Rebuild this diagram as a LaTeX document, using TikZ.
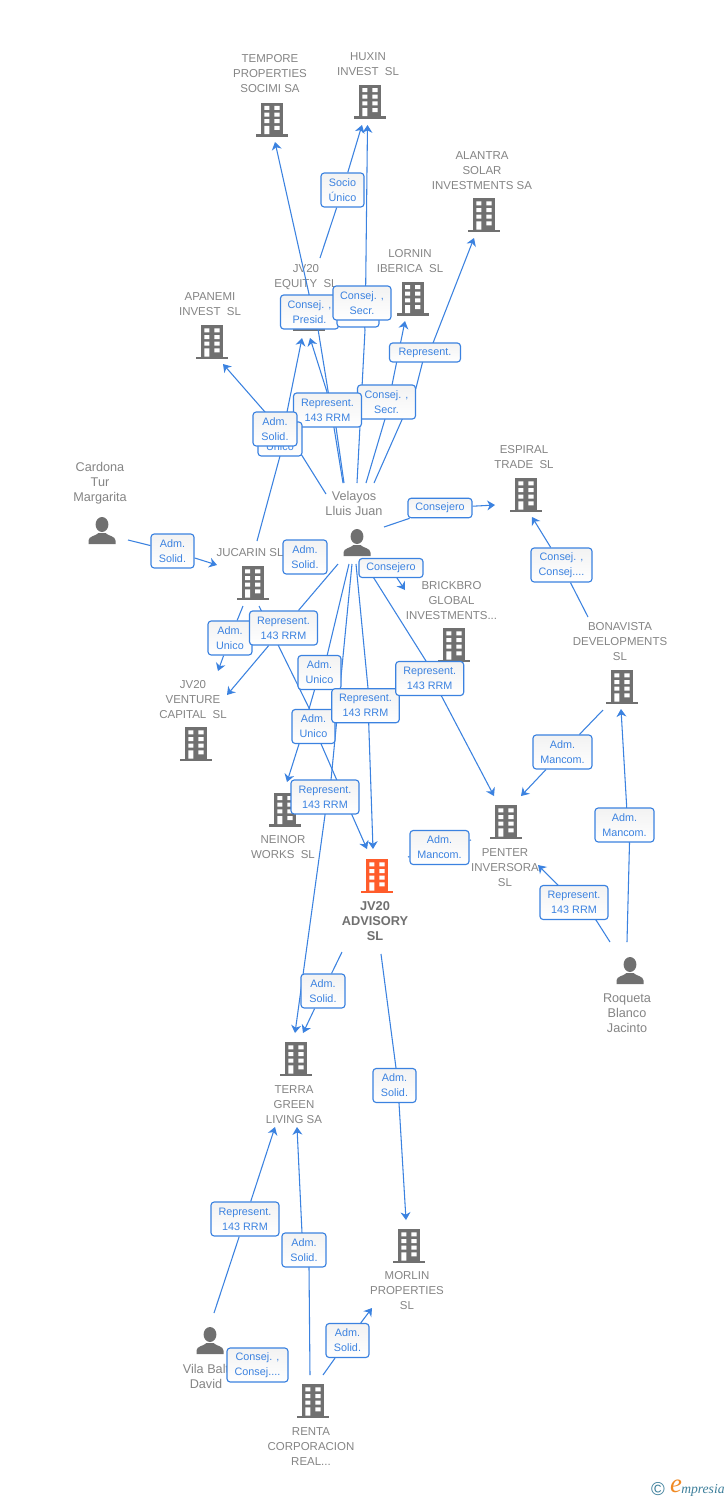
\documentclass[tikz,border=0pt]{standalone}
\usepackage{fontspec}
\setmainfont{Liberation Sans}
\newfontfamily\logoserif{Liberation Serif}
\usetikzlibrary{arrows.meta}
\definecolor{blu}{HTML}{3B82E0}
\definecolor{lbl}{HTML}{858585}
\definecolor{ico}{HTML}{707070}
\definecolor{org}{HTML}{FF5C2B}
\definecolor{teal}{HTML}{3D7F9B}
\definecolor{lorg}{HTML}{F08A24}
\pgfdeclarelayer{back}
\pgfdeclarelayer{lines}
\pgfsetlayers{back,lines,main}
\tikzset{
  link/.style={draw=blu,line width=0.8pt},
  tipped/.style={link,-{Stealth[length=5.8pt,width=7.4pt,inset=1.8pt]}},
  boxnode/.style={draw=blu,line width=0.85pt,rounded corners=2.4pt,top color=black!5,bottom color=white,
     text=blu,inner sep=0pt,align=center,font=\fontsize{8.1}{11.25}\selectfont},
  co/.style={text=lbl,inner sep=0pt,align=center,font=\fontsize{8.6}{11.25}\selectfont},
  pe/.style={text=lbl,inner sep=0pt,align=center,font=\fontsize{9.5}{11.25}\selectfont},
  mainco/.style={text=ico,inner sep=0pt,align=center,font=\fontsize{9.6}{11.25}\selectfont\bfseries},
}
% building icon: centre x, bottom y
\newcommand\bld[3][ico]{%
  \begin{scope}[shift={(#2,#3)}]
    \fill[#1] (-11,-34) rectangle (11,-1);
    \fill[#1] (-16,-2.5) rectangle (16,0);
    \fill[white] (-7.7,-30.6) rectangle (-2.7,-26.6) (2.3,-30.6) rectangle (7.7,-26.6)
                 (-7.7,-24) rectangle (-2.7,-20) (2.3,-24) rectangle (7.7,-20)
                 (-7.7,-17.3) rectangle (-2.7,-13.3) (2.3,-17.3) rectangle (7.7,-13.3)
                 (-7.7,-10.6) rectangle (-2.7,-2.5) (2.3,-10.6) rectangle (7.7,-6.6);
  \end{scope}}
% person icon: centre x, bottom y
\newcommand\psn[2]{%
  \begin{scope}[shift={(#1,#2)}]
    \fill[ico] (0,-19.5) ellipse [x radius=6.4,y radius=7.5];
    \fill[ico] (-13.5,0) -- (-13.5,-3.5) .. controls (-13.5,-8) and (-6,-8) .. (-3.5,-11)
       -- (3.5,-11) .. controls (6,-8) and (13.5,-8) .. (13.5,-3.5) -- (13.5,0) -- cycle;
  \end{scope}}
% label box: name, centre, width, height, text
\newcommand\bx[5]{\node[boxnode,minimum width=#3*0.75pt,minimum height=#4*0.75pt] (#1) at (#2) {#5};}
% connector: id, start, box, tip
\newcommand\lnk[4]{%
  \coordinate (#1-s) at (#2); \coordinate (#1-e) at (#4);
  \begin{pgfonlayer}{lines}
    \draw[link] (#1-s) -- (#3);
    \draw[tipped] (#3) -- (#1-e);
  \end{pgfonlayer}}
% connector with way points: id, start, way point in, box, way point out, tip
\newcommand\lnkv[6]{%
  \coordinate (#1-s) at (#2); \coordinate (#1-a) at (#3);
  \coordinate (#1-b) at (#5); \coordinate (#1-e) at (#6);
  \begin{pgfonlayer}{lines}
    \draw[link] (#1-s) -- (#1-a) -- (#4.center);
    \draw[tipped] (#4.center) -- (#1-b) -- (#1-e);
  \end{pgfonlayer}}
\begin{document}
\begin{tikzpicture}[x=0.75pt,y=-0.75pt]
\useasboundingbox (0,0) rectangle (728,1500);
\begin{pgfonlayer}{back}
\fill[white] (0,0) rectangle (728,1500);
\bld{272}{136.5} \bld{370}{118.7} \bld{484}{232} \bld{412.7}{315.7}
\bld{308.5}{331} \bld{212}{359} \bld{526}{512} \bld{252.7}{600}
\bld{454}{662} \bld{622}{704} \bld{196}{761} \bld{285}{826.7}
\bld{506}{839} \bld[org]{377}{893} \bld{296}{1076} \bld{409}{1263} \bld{313}{1418}
\psn{102}{544} \psn{357}{556} \psn{630}{984} \psn{210}{1354}
\node[co] (tempore) at (270,74) {TEMPORE\\PROPERTIES\\SOCIMI SA};
\node[co] (huxin) at (368,64.5) {HUXIN\\INVEST\ \ SL};
\node[co] (alantra) at (482,171) {ALANTRA\\SOLAR\\INVESTMENTS SA};
\node[co] (lornin) at (410,261.5) {LORNIN\\IBERICA\ \ SL};
\node[co] (equity) at (306,277.5) {JV20\\EQUITY\ \ SL};
\node[co] (apanemi) at (210,304.5) {APANEMI\\INVEST\ \ SL};
\node[pe] (cardona) at (100,483.5) {Cardona\\Tur\\Margarita};
\node[pe] (velayos) at (354,503) {Velayos\\Lluis Juan};
\node[co] (espiral) at (524,457.5) {ESPIRAL\\TRADE\ \ SL};
\node[co] (jucarin) at (250,553) {JUCARIN SL};
\node[co] (brickbro) at (451.5,601) {BRICKBRO\\GLOBAL\\INVESTMENTS...};
\node[co] (bonavista) at (620,642) {BONAVISTA\\DEVELOPMENTS\\SL};
\node[co] (venture) at (193,700) {JV20\\VENTURE\\CAPITAL\ \ SL};
\node[co] (neinor) at (283,847.5) {NEINOR\\WORKS\ \ SL};
\node[co] (penter) at (505,868) {PENTER\\INVERSORA\\SL};
\node[mainco] (advisory) at (375,921.5) {JV20\\ADVISORY\\SL};
\node[pe] (roqueta) at (627,1013.5) {Roqueta\\Blanco\\Jacinto};
\node[co] (terra) at (294,1105) {TERRA\\GREEN\\LIVING SA};
\node[co] (morlin) at (407,1291) {MORLIN\\PROPERTIES\\SL};
\node[pe] (vila) at (206,1376) {Vila Balt\\David};
\node[co] (renta) at (311,1447) {RENTA\\CORPORACION\\REAL...};
\end{pgfonlayer}
% label boxes, lowest first
\bx{bsocio}{342.5,190}{43}{34}{Socio\\Único}
\bx{bpresid}{309.5,312}{58}{34}{Consej. ,\\Presid.}
\bx{bhid}{358,310}{42}{34}{}
\bx{bsecra}{362,303}{58}{34}{Consej. ,\\Secr.}
\bx{brep}{425,352.5}{71}{19}{Represent.}
\bx{bsecrb}{386.5,402}{58}{34}{Consej. ,\\Secr.}
\bx{brrma}{327.5,410}{68}{34}{Represent.\\143 RRM}
\bx{bunia}{280,439}{44}{34}{Adm.\\Unico}
\bx{bsola}{275,429}{44}{34}{Adm.\\Solid.}
\bx{bcard}{172.5,551}{43}{34}{Adm.\\Solid.}
\bx{bsolb}{305,557}{44}{34}{Adm.\\Solid.}
\bx{bconsa}{440,508}{64}{19.5}{Consejero}
\bx{bconsb}{391,568}{64}{19}{Consejero}
\bx{bunib}{230,638}{44}{34}{Adm.\\Unico}
\bx{brrmb}{283.5,628}{68}{34}{Represent.\\143 RRM}
\bx{bunic}{319.5,672.5}{43}{34}{Adm.\\Unico}
\bx{bunid}{313.5,726.5}{43}{34}{Adm.\\Unico}
\bx{brrmc}{365.5,705.7}{67.5}{34}{Represent.\\143 RRM}
\bx{brrmd}{429.7,678.5}{68}{34}{Represent.\\143 RRM}
\bx{brrme}{325,797}{68}{34}{Represent.\\143 RRM}
\bx{bmanca}{439.5,847.5}{59}{34}{Adm.\\Mancom.}
\bx{bmancb}{562.5,752}{59}{34}{Adm.\\Mancom.}
\bx{bmancc}{624.5,825}{59}{34}{Adm.\\Mancom.}
\bx{brrmf}{574,902.5}{68}{34}{Represent.\\143 RRM}
\bx{bconj}{561.5,565}{61}{34}{Consej. ,\\Consej....}
\bx{bsolc}{323,991}{44}{34}{Adm.\\Solid.}
\bx{bsold}{394.5,1085.5}{43}{34}{Adm.\\Solid.}
\bx{brrmg}{245,1219}{68}{34}{Represent.\\143 RRM}
\bx{bsole}{304,1250}{44}{34}{Adm.\\Solid.}
\bx{bsolf}{347.5,1340.5}{43}{34}{Adm.\\Solid.}
\bx{bconk}{257.5,1365}{61}{34}{Consej. ,\\Consej....}
% connectors
\lnk{l1}{320,258}{bsocio}{362,125}
\lnkv{l2}{357,483}{365,330}{bsecra}{365.7,285}{367.5,125}
\lnkv{l3}{343,483}{318,329}{bpresid}{309,294}{275,142}
\lnkv{l4}{344,483}{336,427}{brrma}{327,392}{310,338}
\lnkv{l5}{257,541}{280,456}{bunia}{287,412}{302,338}
\lnkv{l6}{326,494}{296,446}{bsola}{265,412}{223,364}
\lnkv{l7}{366,483}{385,419}{bsecrb}{392,385}{405,321}
\lnkv{l8}{374,483}{416,388}{brep}{433,343}{474,238}
\lnk{l9}{128,540}{bcard}{217,565}
\lnk{l10}{384,527}{bconsa}{495,505}
\lnkv{l11}{365,564}{372,566}{bconsb}{397,578}{405,590}
\lnkv{l12}{365,564}{426,661}{brrmd}{442,697}{494,796}
\lnk{l13}{338,564}{brrmb}{227,695}
\lnk{l14}{243,606}{bunib}{218,671}
\lnkv{l15}{259,606}{309,708}{bunid}{352,815}{367,849}
\lnkv{l16}{349,564}{327,656}{bunic}{299,744}{287,782}
\lnkv{l17}{352,564}{331,780}{brrme}{325,815}{295,1033}
\lnkv{l18}{356,564}{368,688}{brrmc}{368.7,723}{373,849}
\lnk{l19}{603,710}{bmancb}{521,796}
\lnkv{l20}{627,942}{629.5,843}{bmancc}{626.7,807}{621,709}
\lnkv{l21}{610,942}{596,920}{brrmf}{558,885}{538,865}
\lnk{l22}{588,617}{bconj}{532,517}
\coordinate (l23-s) at (408,857); \coordinate (l23-e) at (471,840);
\begin{pgfonlayer}{lines}
\draw[link] (l23-s) -- (bmanca) -- (l23-e);
\end{pgfonlayer}
\lnk{l24}{342,952}{bsolc}{303,1033}
\lnkv{l25}{381,954}{396,1068}{bsold}{399,1103}{406,1220}
\lnk{l26}{214,1313}{brrmg}{275,1127}
\lnkv{l27}{310,1375}{309,1267}{bsole}{302,1233}{297,1127}
\lnk{l28}{323,1375}{bsolf}{372,1308}
% logo
\node[text=teal,inner sep=0pt,font=\fontsize{14}{14}\selectfont] (logoc) at (658,1489) {©};
\node[text=lorg,inner sep=0pt,font=\logoserif\itshape\fontsize{20}{20}\selectfont] (logoe) at (676,1486.5) {e};
\node[text=teal,inner sep=0pt,anchor=west,font=\logoserif\itshape\fontsize{10.2}{10.2}\selectfont] (logot) at (681,1490) {mpresia};
\end{tikzpicture}
\end{document}
